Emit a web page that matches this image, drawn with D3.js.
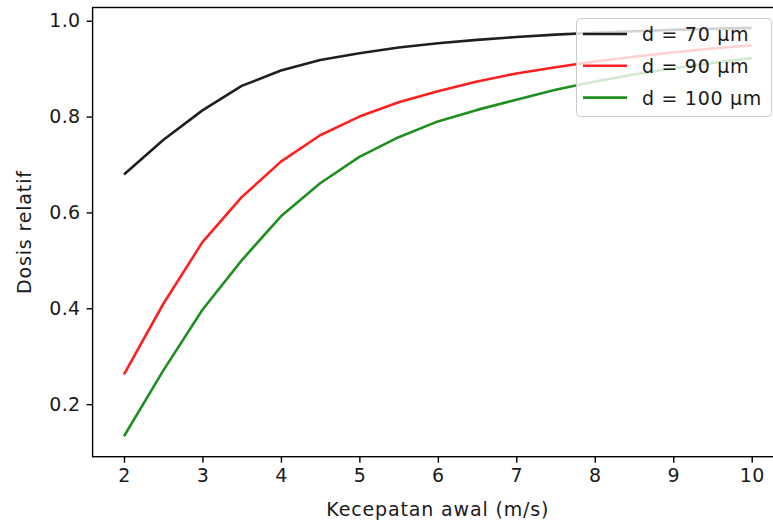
<!DOCTYPE html>
<html>
<head>
<meta charset="utf-8">
<script src="https://cdn.jsdelivr.net/npm/d3@7"></script>
<style>
  body { margin: 0; background: #fff; }
  svg { display: block; }
  text { font-family: "DejaVu Sans", sans-serif; fill: #1a1a1a; }
</style>
</head>
<body>
<svg id="chart"></svg>
<script>
const width = 773;
const height = 526;

// kecepatan awal (m/s)
const speeds = [2, 2.5, 3, 3.5, 4, 4.5, 5, 5.5, 6, 6.5, 7, 7.5, 8, 8.5, 9, 9.5, 10];

// dosis relatif, one array per diameter
const dose70 = [0.679, 0.751, 0.813, 0.864, 0.896, 0.918, 0.932, 0.944, 0.953, 0.960, 0.966, 0.971, 0.975, 0.978, 0.981, 0.983, 0.985];
const dose90 = [0.262, 0.409, 0.538, 0.632, 0.706, 0.761, 0.800, 0.830, 0.853, 0.873, 0.890, 0.903, 0.915, 0.925, 0.934, 0.942, 0.949];
const dose100 = [0.133, 0.270, 0.397, 0.500, 0.592, 0.661, 0.716, 0.757, 0.790, 0.814, 0.835, 0.856, 0.873, 0.888, 0.901, 0.912, 0.922];

const seriesLabels = ["d = 70 µm", "d = 90 µm", "d = 100 µm"];
const seriesColors = ["#000000", "#ff0000", "#008000"];
const xTicks = [2, 3, 4, 5, 6, 7, 8, 9, 10];
const yTicks = [0.2, 0.4, 0.6, 0.8, 1.0];

const series = [dose70, dose90, dose100].map((vals, i) => ({
  label: seriesLabels[i],
  color: seriesColors[i],
  points: speeds.map((s, j) => ({ x: s, y: vals[j] }))
}));

const plot = { left: 92.6, right: 783.1, top: 7.5, bottom: 456.7 };
const fontSize = 19;
const spacing = "0.7px";

const svg = d3.select("#chart")
  .attr("width", width)
  .attr("height", height);

// matplotlib style 5% margins
const xPad = (d3.max(speeds) - d3.min(speeds)) * 0.05;
const allY = [...dose70, ...dose90, ...dose100];
const yPad = (d3.max(allY) - d3.min(allY)) * 0.05;

const xScale = d3.scaleLinear()
  .domain([d3.min(speeds) - xPad, d3.max(speeds) + xPad])
  .range([plot.left, plot.right]);

const yScale = d3.scaleLinear()
  .domain([d3.min(allY) - yPad, d3.max(allY) + yPad])
  .range([plot.bottom, plot.top]);

const line = d3.line()
  .x(d => xScale(d.x))
  .y(d => yScale(d.y));

svg.append("g")
  .selectAll("path")
  .data(series)
  .join("path")
  .attr("fill", "none")
  .attr("stroke", d => d.color)
  .attr("stroke-opacity", 0.88)
  .attr("stroke-width", 2.6)
  .attr("stroke-linejoin", "round")
  .attr("d", d => line(d.points));

// axes
const xAxis = svg.append("g")
  .attr("transform", `translate(0,${plot.bottom})`)
  .call(d3.axisBottom(xScale).tickValues(xTicks).tickFormat(d3.format("d")).tickSize(6).tickPadding(6));

const yAxis = svg.append("g")
  .attr("transform", `translate(${plot.left},0)`)
  .call(d3.axisLeft(yScale).tickValues(yTicks).tickFormat(d3.format(".1f")).tickSize(6).tickPadding(6));

[xAxis, yAxis].forEach(g => {
  g.select(".domain").remove();
  g.selectAll(".tick line").attr("stroke", "#000").attr("stroke-width", 1.4);
  g.selectAll(".tick text")
    .attr("font-size", fontSize)
    .attr("font-family", "DejaVu Sans")
    .attr("letter-spacing", "0.4px")
    .attr("fill", "#1a1a1a");
});

// spines (right one falls outside the picture)
svg.append("rect")
  .attr("x", plot.left)
  .attr("y", plot.top)
  .attr("width", plot.right - plot.left)
  .attr("height", plot.bottom - plot.top)
  .attr("fill", "none")
  .attr("stroke", "#000")
  .attr("stroke-width", 1.4);

svg.append("text")
  .attr("x", (plot.left + plot.right) / 2)
  .attr("y", 515.5)
  .attr("text-anchor", "middle")
  .attr("font-size", fontSize)
  .attr("letter-spacing", "0.85px")
  .text("Kecepatan awal (m/s)");

svg.append("text")
  .attr("transform", "rotate(-90)")
  .attr("x", -(plot.top + plot.bottom) / 2)
  .attr("y", 31)
  .attr("text-anchor", "middle")
  .attr("font-size", fontSize)
  .attr("letter-spacing", "0.85px")
  .text("Dosis relatif");

// legend
const legend = svg.append("g");
legend.append("rect")
  .attr("x", 576.5)
  .attr("y", 18.5)
  .attr("width", 195)
  .attr("height", 98)
  .attr("rx", 4)
  .attr("fill", "#fff")
  .attr("fill-opacity", 0.8)
  .attr("stroke", "#cccccc")
  .attr("stroke-width", 1);

const rows = legend.selectAll("g.row")
  .data(series)
  .join("g")
  .attr("class", "row")
  .attr("transform", (d, i) => `translate(0,${34 + i * 31.8})`);

rows.append("line")
  .attr("x1", 583)
  .attr("x2", 627)
  .attr("stroke", d => d.color)
  .attr("stroke-opacity", 0.88)
  .attr("stroke-width", 2.6);

rows.append("text")
  .attr("x", 642)
  .attr("y", 7)
  .attr("font-size", fontSize)
  .attr("letter-spacing", spacing)
  .text(d => d.label);
</script>
</body>
</html>
